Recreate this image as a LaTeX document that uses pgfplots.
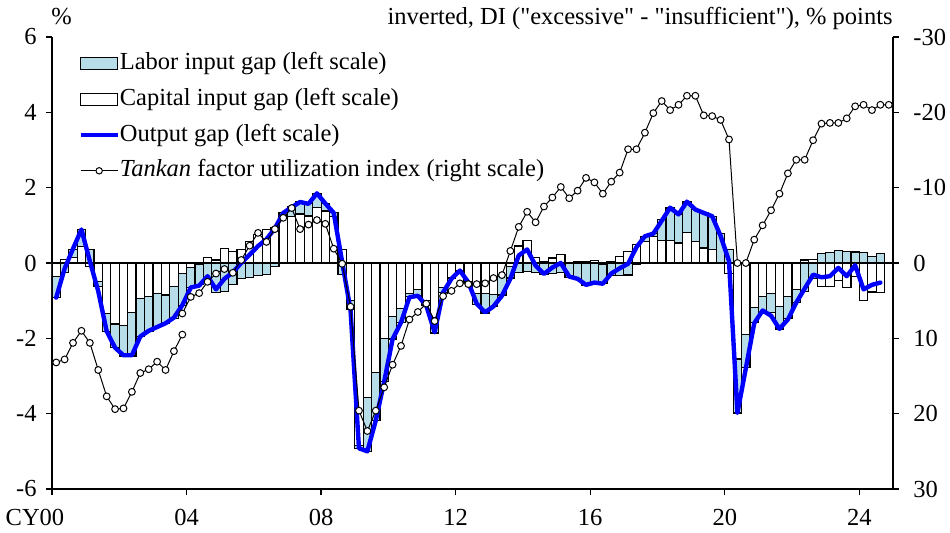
\documentclass[border=0pt]{standalone}
\usepackage{fontspec}
\setmainfont{Liberation Serif}
\newfontfamily\rawserif{Liberation Serif}
\usepackage{pgfplots}
\usepackage{pgfplotstable}
\pgfplotsset{compat=1.18}
\definecolor{laborblue}{RGB}{183,222,232}
\definecolor{ogblue}{RGB}{0,0,255}

% q = quarter index (0 = 2000Q1); C = capital input gap; L = labor input gap; OG = output gap
\pgfplotstableread{
q C L OG
0 -0.35 -0.57 -0.92
1 0.10 -0.26 -0.15
2 0.15 0.20 0.38
3 0.43 0.46 0.89
4 -0.10 0.35 0.05
5 -0.50 -0.13 -0.75
6 -1.34 -0.47 -1.81
7 -1.62 -0.62 -2.25
8 -1.65 -0.82 -2.45
9 -1.32 -1.15 -2.45
10 -0.94 -1.02 -1.95
11 -0.89 -0.93 -1.80
12 -0.82 -0.87 -1.70
13 -0.85 -0.75 -1.60
14 -0.63 -0.84 -1.45
15 -0.27 -0.85 -1.12
16 -0.12 -0.53 -0.65
17 -0.03 -0.55 -0.60
18 0.14 -0.45 -0.35
19 0.08 -0.78 -0.70
20 0.39 -0.75 -0.42
21 0.30 -0.58 -0.25
22 0.35 -0.42 0.00
23 0.58 -0.38 0.22
24 0.75 -0.33 0.45
25 0.88 -0.30 0.63
26 0.95 -0.10 0.92
27 1.25 0.08 1.33
28 1.23 0.27 1.48
29 1.30 0.32 1.62
30 1.25 0.32 1.57
31 1.47 0.38 1.85
32 1.38 0.20 1.58
33 1.23 0.10 1.33
34 0.35 -0.30 0.03
35 -1.00 -0.22 -1.25
36 -4.85 -0.07 -4.92
37 -3.58 -1.42 -5.00
38 -2.90 -1.28 -4.18
39 -2.00 -1.15 -3.15
40 -1.42 -0.60 -2.02
41 -1.20 -0.38 -1.58
42 -0.80 -0.10 -0.91
43 -0.71 -0.16 -0.87
44 -1.00 -0.13 -1.13
45 -1.46 -0.40 -1.84
46 -0.66 -0.13 -0.78
47 -0.40 -0.02 -0.42
48 -0.20 0.00 -0.20
49 -0.50 -0.01 -0.51
50 -0.80 -0.30 -1.08
51 -0.80 -0.53 -1.31
52 -0.84 -0.32 -1.15
53 -0.30 -0.55 -0.87
54 -0.10 -0.30 -0.42
55 0.45 -0.25 0.20
56 0.59 -0.22 0.36
57 0.15 -0.25 -0.07
58 0.03 -0.30 -0.29
59 0.13 -0.27 -0.12
60 0.22 -0.25 0.00
61 0.00 -0.38 -0.36
62 0.04 -0.44 -0.42
63 0.04 -0.60 -0.58
64 0.07 -0.57 -0.52
65 -0.05 -0.50 -0.55
66 0.04 -0.33 -0.28
67 0.18 -0.34 -0.14
68 0.30 -0.32 -0.02
69 0.49 -0.05 0.42
70 0.58 0.13 0.71
71 0.70 0.08 0.78
72 0.60 0.55 1.12
73 0.60 0.88 1.47
74 0.53 0.77 1.29
75 0.80 0.82 1.63
76 0.57 0.85 1.42
77 0.40 0.93 1.33
78 0.35 0.89 1.24
79 -0.02 0.78 0.72
80 -0.28 0.35 0.05
81 -2.55 -1.43 -3.98
82 -1.90 -0.88 -2.80
83 -1.19 -0.40 -1.60
84 -0.88 -0.45 -1.26
85 -0.82 -0.50 -1.40
86 -1.15 -0.60 -1.75
87 -0.90 -0.58 -1.50
88 -0.71 -0.34 -1.05
89 0.08 -0.76 -0.68
90 0.10 -0.42 -0.31
91 -0.62 0.25 -0.38
92 -0.62 0.27 -0.35
93 -0.46 0.34 -0.13
94 -0.66 0.31 -0.35
95 -0.35 0.29 -0.06
96 -0.99 0.28 -0.70
97 -0.77 0.18 -0.58
98 -0.78 0.25 -0.52
}\gaps

% Tankan factor utilization index, old basis (to 2003Q4)
\pgfplotstableread{
q T
0 13.2
1 12.8
2 10.6
3 9.0
4 10.6
5 14.2
6 17.7
7 19.4
8 19.3
9 17.1
10 14.6
11 14.1
12 13.1
13 14.2
14 11.7
15 9.5
}\tankold

% Tankan factor utilization index, new basis (from 2003Q4)
\pgfplotstableread{
q T
15 6.7
16 4.5
17 4.0
18 2.5
19 1.4
20 0.8
21 1.3
22 -0.4
23 -2.3
24 -4.0
25 -2.8
26 -4.5
27 -6.0
28 -7.3
29 -4.5
30 -5.1
31 -5.7
32 -5.2
33 -1.9
34 0.1
35 5.8
36 19.6
37 22.3
38 19.6
39 16.5
40 13.5
41 11.0
42 7.5
43 6.5
44 5.4
45 7.7
46 4.4
47 3.7
48 2.7
49 2.8
50 2.8
51 2.7
52 2.0
53 1.6
54 -1.6
55 -4.8
56 -6.8
57 -5.4
58 -7.5
59 -8.7
60 -10.1
61 -8.6
62 -9.6
63 -11.3
64 -10.7
65 -9.2
66 -10.8
67 -12.0
68 -15.1
69 -15.1
70 -17.3
71 -19.9
72 -21.5
73 -20.3
74 -21.0
75 -22.2
76 -22.2
77 -19.6
78 -19.5
79 -19.0
80 -16.4
81 0.0
82 0.0
83 -3.1
84 -5.0
85 -7.0
86 -9.2
87 -11.9
88 -13.7
89 -13.7
90 -16.3
91 -18.5
92 -18.6
93 -18.6
94 -19.2
95 -20.8
96 -21.0
97 -20.3
98 -21.0
99 -21.0
}\tanknew

\pgfplotsset{
  common/.style={
    scale only axis, width=420.5pt, height=226pt,
    xmin=0, xmax=25,
    tick align=outside, major tick length=3pt,
    tick style={black, line width=0.7pt},
    axis line style={black, line width=0.8pt, -},
  },
  rectlegend/.style={legend image code/.code={\draw[##1] (0pt,-3pt) rectangle (18.5pt,3pt);}},
  linelegend/.style={legend image code/.code={\draw[##1] (0pt,0pt) -- (18.5pt,0pt);}},
  marklegend/.style={legend image code/.code={\draw[##1, mark=none] (0pt,0pt) -- (18.5pt,0pt); \draw[##1] plot coordinates {(9.25pt,0pt)};}},
}

\begin{document}
\fontsize{12.25}{14}\selectfont
\begin{tikzpicture}
\useasboundingbox (-26pt,-21.5pt) rectangle (449pt,244.5pt);
\begin{axis}[common,
  ymin=-6, ymax=6,
  axis x line*=bottom, axis y line*=left,
  xtick={0,4,...,24}, xticklabels={\llap{CY}00,04,08,12,16,20,24},
  ytick={-6,-4,...,6}, yticklabels={-6,-4,-2,0,2,4,6},
  xticklabel style={inner sep=0pt, yshift=-7pt},
  yticklabel style={inner sep=0pt, xshift=-4.5pt},
  extra y ticks={0}, extra y tick labels={},
  extra y tick style={grid=major, major grid style={black, line width=0.7pt}},
  legend style={draw=none, fill=none, inner sep=0pt,
    at={(axis description cs:0.031,0.969)}, anchor=north west,
    nodes={inner sep=0pt, text height=9pt, text depth=3pt},
    row sep=5.9pt, column sep=0pt},
  legend cell align=left,
]
\addplot[ybar, bar width=0.25, bar shift=0pt, fill=laborblue, draw=black, line width=0.6pt, forget plot]
  table[x expr=\thisrow{q}/4+0.125, y expr={\thisrow{L}+(((\thisrow{L})*(\thisrow{C}))>0)*(\thisrow{C})}]{\gaps};
\addplot[ybar, bar width=0.25, bar shift=0pt, fill=white, draw=black, line width=0.6pt, forget plot]
  table[x expr=\thisrow{q}/4+0.125, y=C]{\gaps};
\addplot[ogblue, line width=2.2pt, line join=round, line cap=round, mark=none, forget plot]
  table[x expr=\thisrow{q}/4+0.125, y=OG]{\gaps};

\addlegendimage{rectlegend, fill=laborblue, draw=black, line width=0.6pt}
\addlegendentry{Labor input gap (left scale)}
\addlegendimage{rectlegend, fill=white, draw=black, line width=0.6pt}
\addlegendentry{Capital input gap (left scale)}
\addlegendimage{linelegend, ogblue, line width=2.2pt}
\addlegendentry{Output gap (left scale)}
\addlegendimage{marklegend, black, line width=0.5pt, mark=*, mark size=1.6pt, mark options={fill=white}}
\addlegendentry{\textit{Tankan} factor utilization index (right scale)}
\end{axis}

\begin{axis}[common,
  ymin=-30, ymax=30, y dir=reverse,
  axis x line=none, axis y line*=right,
  ytick={-30,-20,...,30}, yticklabels={-30,-20,-10,0,10,20,30},
  yticklabel style={inner sep=0pt, xshift=7pt},
]
\addplot[black, line width=0.5pt, mark=*, mark size=1.7pt, mark options={fill=white, line width=0.5pt}]
  table[x expr=\thisrow{q}/4+0.125, y=T]{\tankold};
\addplot[black, line width=0.5pt, mark=*, mark size=1.7pt, mark options={fill=white, line width=0.5pt}]
  table[x expr=\thisrow{q}/4+0.125, y=T]{\tanknew};
\end{axis}

\node[anchor=base west, inner sep=0pt] at (-0.5pt,232.5pt) {\%};
\node[anchor=base east, inner sep=0pt] at (420.5pt,232.5pt) {inverted, DI ({\rawserif"}excessive{\rawserif"} - {\rawserif"}insufficient{\rawserif"}), \% points};
\end{tikzpicture}
\end{document}
